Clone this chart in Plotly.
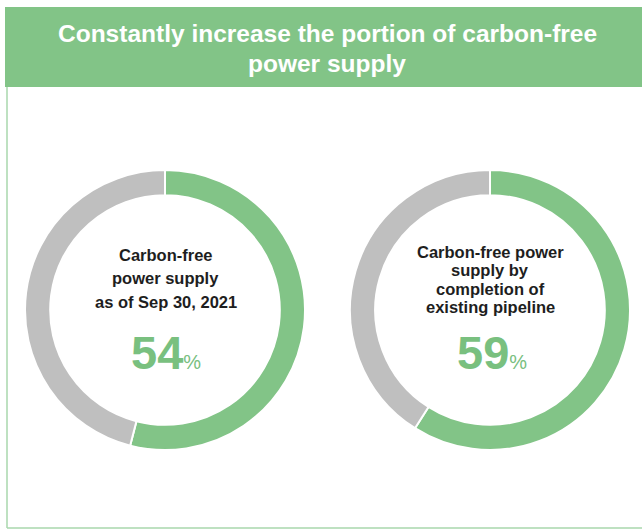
import plotly.graph_objects as go

# Share of carbon-free power supply (percent) and the complementary remainder
labels = ["Carbon-free", "Other"]
current_share = [54, 46]
pipeline_share = [59, 41]

title_lines = ["Constantly increase the portion of carbon-free", "power supply"]
caption_current = ["Carbon-free", "power supply", "as of Sep 30, 2021"]
caption_pipeline = ["Carbon-free power", "supply by", "completion of", "existing pipeline"]

W, H = 642, 530
GREEN = "#82C487"
GREY = "#BFBFBF"
TEXT_GREEN = "#79C07F"
FONT = "Liberation Sans, Arial, sans-serif"


def px(x):
    return x / W


def py(y):
    return 1 - y / H


def donut(values, cx, cy, r):
    return go.Pie(
        labels=labels,
        values=values,
        hole=0.82,
        sort=False,
        direction="clockwise",
        rotation=0,
        textinfo="none",
        hoverinfo="label+percent",
        marker=dict(colors=[GREEN, GREY], line=dict(color="white", width=2)),
        domain=dict(x=[px(cx - r), px(cx + r)], y=[py(cy + r), py(cy - r)]),
        showlegend=False,
    )


fig = go.Figure()
fig.add_trace(donut(current_share, 165, 310, 140))
fig.add_trace(donut(pipeline_share, 490, 310, 140))

shapes = [
    # header band
    dict(type="rect", xref="paper", yref="paper", x0=px(5), x1=1, y0=py(87), y1=py(7),
         fillcolor=GREEN, line=dict(width=0), layer="below"),
    # panel border (left and bottom)
    dict(type="line", xref="paper", yref="paper", x0=px(7), x1=px(7), y0=py(528), y1=py(87),
         line=dict(color="#A9D7AC", width=1.5)),
    dict(type="line", xref="paper", yref="paper", x0=px(7), x1=1, y0=py(528), y1=py(528),
         line=dict(color="#A9D7AC", width=1.5)),
]


def text(x, y, s, size, color):
    return dict(x=px(x), y=py(y), text=s, showarrow=False, xanchor="center", yanchor="middle",
                font=dict(family=FONT, size=size, color=color))


annotations = []
# header title, one annotation per line
for s, y in zip(title_lines, [34, 64]):
    annotations.append(text(327, y, "<b>" + s + "</b>", 24.5, "white"))

# captions inside each ring
for s, y in zip(caption_current, [255, 278, 302]):
    annotations.append(text(166, y, "<b>" + s + "</b>", 16.5, "#1E1E1E"))
for s, y in zip(caption_pipeline, [252, 270, 289, 307]):
    annotations.append(text(490, y, "<b>" + s + "</b>", 16.5, "#1E1E1E"))

# headline percentages
annotations.append(text(166, 352,
                        "<b>%d</b><span style='font-size:20px'>%%</span>" % current_share[0],
                        47, TEXT_GREEN))
annotations.append(text(492, 352,
                        "<b>%d</b><span style='font-size:20px'>%%</span>" % pipeline_share[0],
                        47, TEXT_GREEN))

fig.update_layout(
    width=W, height=H,
    margin=dict(l=0, r=0, t=0, b=0),
    paper_bgcolor="white",
    plot_bgcolor="white",
    shapes=shapes,
    annotations=annotations,
)

fig.write_html("out.html")
